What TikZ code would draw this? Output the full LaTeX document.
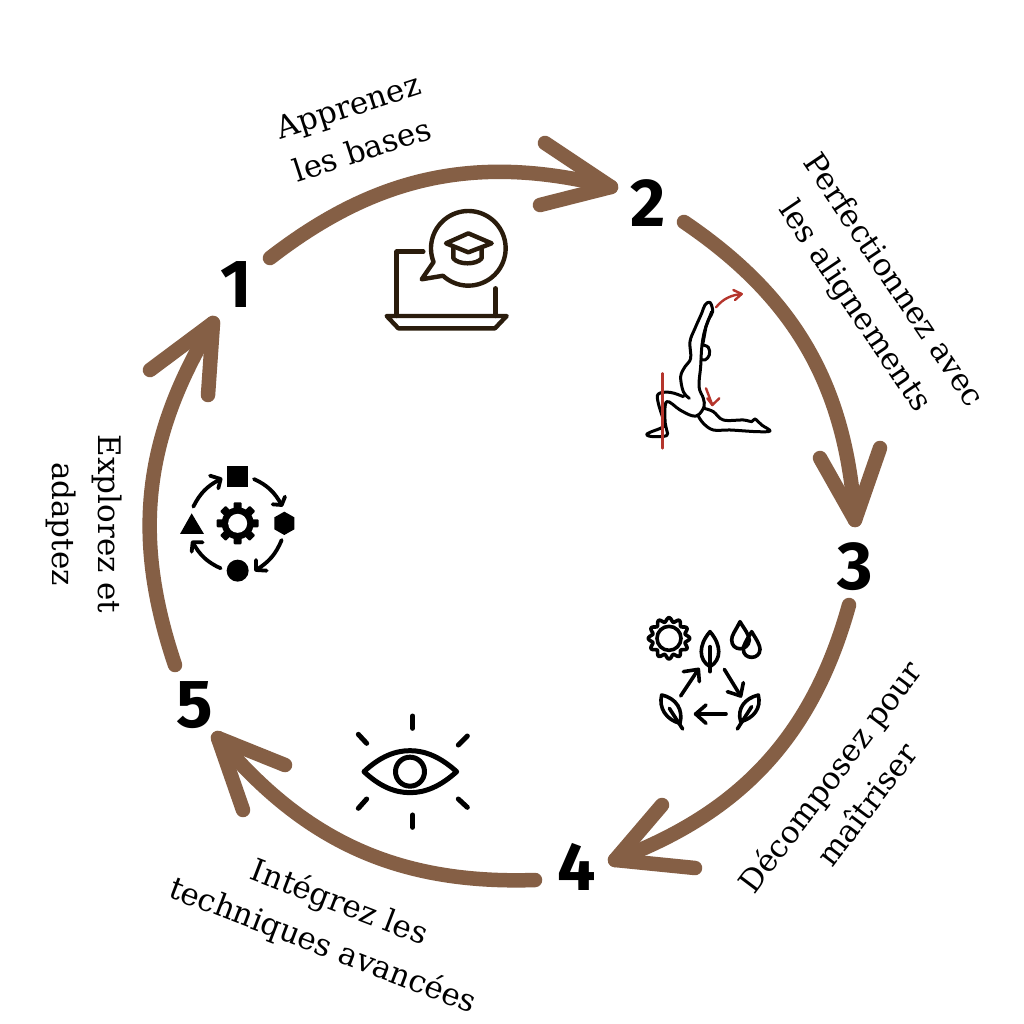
\documentclass[tikz,border=0pt]{standalone}
\usepackage{fontspec}
\newfontfamily\serf{DejaVu Serif}
\newfontfamily\numf[Numbers=Lining]{Fira Sans}
\definecolor{brownarc}{HTML}{855F45}
\definecolor{darkicon}{HTML}{2A1C0C}
\definecolor{redline}{HTML}{B5352C}
\tikzset{
  arc/.style={draw=brownarc,line width=14.5pt,line cap=round,line join=round},
  num/.style={font=\numf\bfseries\fontsize{68}{68}\selectfont,inner sep=0pt},
  lab/.style={font=\serf\fontsize{31}{46}\selectfont,align=center,inner sep=0pt},
  icon/.style={line cap=round,line join=round},
}
\begin{document}
\begin{tikzpicture}[x=1pt,y=-1pt]
\useasboundingbox (0,0) rectangle (1024,1024);
\fill[white] (0,0) rectangle (1024,1024);
% numbers
\node[num] (n1) at (236,285) {1};
\node[num] (n2) at (648,203) {2};
\node[num] (n3) at (855,567) {3};
\node[num] (n4) at (577,867) {4};
\node[num] (n5) at (195,705) {5};
% labels
\node[lab,rotate=18] (l1) at (355,128) {Apprenez\\les bases};
\node[lab,rotate=-56] (l2) at (873,294) {Perfectionnez avec\\les alignements};
\node[lab,rotate=53] (l3) at (848,790) {Décomposez pour\\maîtriser};
\node[lab,rotate=-21] (l4) at (331,925) {Intégrez les\\techniques avancées};
\node[lab,rotate=-90] (l5) at (84,524) {Explorez et\\adaptez};
% connectors
\coordinate (h2) at ([shift={(-37,-16)}]n2.center);
\coordinate (h3) at ([shift={(0,-47)}]n3.center);
\coordinate (h4) at ([shift={(38,-7)}]n4.center);
\coordinate (h5) at ([shift={(23,33)}]n5.center);
\coordinate (h1) at ([shift={(-23,38)}]n1.center);
\draw[arc] ([shift={(34,-27)}]n1.center) to[bend left=26] (h2);
\draw[arc] ([shift={(36,19)}]n2.center) to[bend left=26] (h3);
\draw[arc] ([shift={(-6,38)}]n3.center) to[bend left=27] (h4);
\draw[arc] ([shift={(-42,13)}]n4.center) to[bend left=26] (h5);
\draw[arc] ([shift={(-20,-40)}]n5.center) to[bend left=25] (h1);
\draw[arc] (545,143) -- (h2) -- (540,205);
\draw[arc] (820,458) -- (h3) -- (880,448);
\draw[arc] (662,805) -- (h4) -- (695,868);
\draw[arc] (285,765) -- (h5) -- (243,810);
\draw[arc] (150,370) -- (h1) -- (208,395);
% laptop icon
\begin{scope}[shift={(370,190)},x=0.3333pt,y=-0.3333pt]
\begin{scope}[icon,draw=darkicon,line width=4.4pt]
\draw (160,185) -- (80,185) -- (80,378);
\draw (377,295) -- (377,378);
\draw (50,378) -- (410,378) -- (375,415) -- (85,415) -- cycle;
\draw plot[domain=158.5:492.7,samples=70,smooth] ({295+112*cos(\x)},{175+112*sin(\x)}) -- (155,268) -- cycle;
\draw (295,130) -- (365,160) -- (295,187) -- (228,160) -- cycle;
\draw (250,175) -- (250,205) .. controls (265,225) and (320,225) .. (335,205) -- (335,175);
\end{scope}
\end{scope}
% yoga icon
\begin{scope}[shift={(630,270)},x=0.3333pt,y=-0.3333pt]
\begin{scope}[icon,draw=black,line width=3pt]
\draw plot[smooth,tension=0.6] coordinates {(178,385) (160,365) (152,320) (165,290) (182,265) (180,215) (195,175) (215,130) (225,105) (240,97) (248,125) (235,150) (222,190) (215,235) (212,290) (207,350) (220,385) (222,410) (205,435) (185,437) (150,420) (110,395) (105,450) (110,480) (110,497) (70,500) (50,495) (60,487) (100,470) (100,450) (85,400) (85,372) (120,367) (160,380)};
\draw plot[smooth,tension=0.6] coordinates {(222,415) (250,425) (280,450) (340,450) (365,455) (375,447) (395,465) (420,483) (380,485) (300,480) (250,480) (220,460) (203,435)};
\draw plot[smooth,tension=0.7] coordinates {(216,225) (235,232) (238,255) (225,270) (213,268)};
\draw (245,125) -- (228,170) -- (218,225);
\end{scope}
\begin{scope}[icon,draw=redline,line width=2.4pt]
\draw (97,310) -- (97,535);
\draw (258,112) .. controls (280,85) and (305,75) .. (335,72);
\draw (310,60) -- (335,72) -- (315,90);
\draw (228,355) -- (247,405);
\draw (232,385) -- (247,405) -- (268,385);
\end{scope}
\end{scope}
% nature cycle icon
\begin{scope}[shift={(630,610)},x=0.3333pt,y=-0.3333pt]
\begin{scope}[icon,draw=black,line width=3.6pt]
\draw (117,85) circle[radius=12pt];
\draw plot[domain=0:360,samples=145,smooth] ({117+(56+6*cos(12*\x))*cos(\x-90)},{85+(56+6*cos(12*\x))*sin(\x-90)}) -- cycle;
\draw (240,65) .. controls (205,105) and (205,150) .. (240,170) .. controls (275,150) and (275,105) .. (240,65) -- cycle;
\draw (240,110) -- (240,185);
\draw (330,35) .. controls (315,65) and (305,75) .. (305,90) .. controls (305,125) and (355,125) .. (358,90) .. controls (355,70) and (345,60) .. (330,35) -- cycle;
\draw (365,65) .. controls (350,90) and (340,105) .. (340,118) .. controls (340,150) and (390,150) .. (390,118) .. controls (390,105) and (380,90) .. (365,65) -- cycle;
\draw (152,258) -- (205,178);
\draw (160,185) -- (205,178) -- (208,215);
\draw (283,178) -- (332,258);
\draw (292,245) -- (332,258) -- (340,218);
\draw (288,312) -- (197,312);
\draw (228,285) -- (197,312) -- (228,340);
\draw (95,255) .. controls (140,265) and (160,300) .. (150,340) .. controls (110,330) and (85,295) .. (95,255) -- cycle;
\draw (118,295) -- (158,357);
\draw (385,255) .. controls (345,265) and (320,295) .. (332,335) .. controls (370,325) and (395,295) .. (385,255) -- cycle;
\draw (365,290) -- (322,357);
\end{scope}
\end{scope}
% eye icon
\begin{scope}[shift={(340,700)},x=0.3333pt,y=-0.3333pt]
\begin{scope}[icon,draw=black,line width=5pt]
\draw (72,215) .. controls (120,170) and (165,152) .. (210,152) .. controls (255,152) and (300,170) .. (350,215) .. controls (300,260) and (255,278) .. (210,278) .. controls (165,278) and (120,260) .. (72,215) -- cycle;
\draw (210,215) circle[radius=14.5pt];
\draw (218,48) -- (218,85);
\draw (218,345) -- (218,382);
\draw (55,103) -- (80,130);
\draw (382,108) -- (355,135);
\draw (55,325) -- (80,297);
\draw (355,297) -- (382,322);
\end{scope}
\end{scope}
% shapes cycle icon
\begin{scope}[shift={(170,455)},x=0.3333pt,y=-0.3333pt]
\fill (172,33) rectangle (235,95);
\fill (343,170) -- (373,187) -- (373,223) -- (343,240) -- (313,223) -- (313,187) -- cycle;
\fill (203,347) circle[radius=11pt];
\fill (65,175) -- (30,237) -- (102,237) -- cycle;
\begin{scope}[shift={(203,205)}]
\fill (0,0) circle[radius=16pt];
\foreach \a in {0,45,...,315} {\fill[rotate=\a,rounded corners=1pt] (-12,-63) rectangle (12,0);}
\fill[white] (0,0) circle[radius=9.5pt];
\end{scope}
\begin{scope}[icon,draw=black,line width=3.8pt]
\draw (252,72) to[bend left=18] (335,150);
\draw (345,125) -- (335,150) -- (308,148);
\draw (335,255) to[bend left=18] (258,345);
\draw (258,315) -- (258,345) -- (290,347);
\draw (152,340) to[bend left=18] (68,262);
\draw (65,290) -- (68,262) -- (98,262);
\draw (70,155) to[bend left=18] (152,72);
\draw (120,62) -- (152,72) -- (145,100);
\end{scope}
\end{scope}
\end{tikzpicture}
\end{document}
